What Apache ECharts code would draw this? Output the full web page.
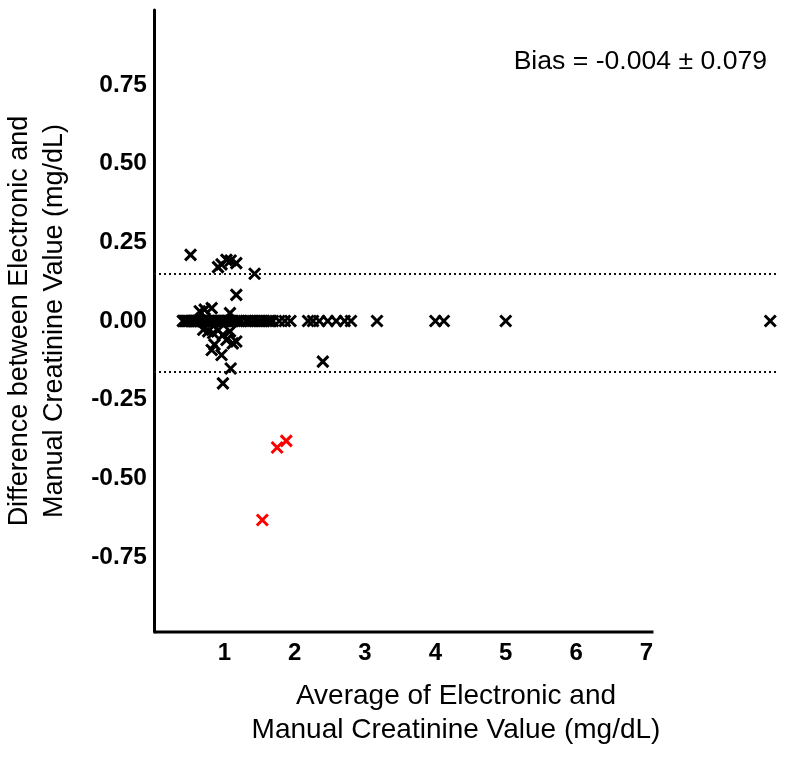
<!DOCTYPE html>
<html>
<head>
<meta charset="utf-8">
<script src="https://cdn.jsdelivr.net/npm/echarts@6/dist/echarts.min.js"></script>
<style>html,body{margin:0;padding:0;background:#fff}#c{width:800px;height:758px}</style>
</head>
<body>
<div id="c"></div>
<script>
// x tick labels and y tick labels
const xTicks = [1, 2, 3, 4, 5, 6, 7];
const yTicks = [-0.75, -0.5, -0.25, 0, 0.25, 0.5, 0.75];
// limits of agreement (bias ± 1.96 SD)
const limits = [0.151, -0.159];
// axis extents
const xRange = [0, 8.87];
const yRange = [-0.988, 0.988];
const xAxisLineEnd = 7.1;
// points with zero difference (average values)
const zeroX = [0.41,0.42,0.44,0.45,0.47,0.48,0.50,0.52,0.53,0.55,0.57,0.58,0.60,0.62,0.63,0.65,0.67,0.69,0.70,0.72,0.74,0.76,0.78,0.80,0.81,0.83,0.85,0.87,0.89,0.91,0.93,0.95,0.97,0.99,1.01,1.03,1.05,1.07,1.10,1.12,1.15,1.18,1.21,1.24,1.31,1.34,1.37,1.40,1.43,1.46,1.50,1.53,1.56,1.60,1.63,1.66,1.69,1.78,1.86,1.94,2.19,2.26,2.35,2.47,2.59,2.71,2.80,3.17,4.00,4.12,5.00,8.76];
// points with non-zero difference (black)
const nzX = [0.52,0.91,0.96,1.03,1.09,1.17,1.43,1.17,0.65,0.72,0.82,1.08,0.70,0.77,0.84,0.91,0.98,1.08,1.03,1.17,0.86,1.12,0.82,0.96,1.09,0.98,2.40];
const nzY = [0.210,0.171,0.180,0.194,0.192,0.184,0.150,0.083,0.031,0.036,0.041,0.025,-0.028,-0.033,-0.038,-0.030,-0.044,-0.033,-0.060,-0.065,-0.075,-0.071,-0.092,-0.108,-0.151,-0.198,-0.129];
// outliers (red)
const redX = [1.75, 1.88, 1.54];
const redY = [-0.402, -0.381, -0.632];

const blackData = zeroX.map(x => [x, 0]).concat(nzX.map((x, i) => [x, nzY[i]]));
const redData = redX.map((x, i) => [x, redY[i]]);

const FONT = "'Liberation Sans', Arial, Helvetica, sans-serif";
const cross = 'path://M0,0L10,10M10,0L0,10';

const chart = echarts.init(document.getElementById('c'), null, {renderer: 'canvas'});
chart.setOption({
  animation: false,
  backgroundColor: '#fff',
  grid: {left: 154, right: 22, top: 10, bottom: 126, containLabel: false, outerBoundsMode: 'none'},
  xAxis: {
    type: 'value', min: xRange[0], max: xRange[1],
    axisLine: {show: false}, axisTick: {show: false}, splitLine: {show: false},
    axisLabel: {customValues: xTicks, color: '#000', fontWeight: 'bold', fontSize: 24, fontFamily: FONT, margin: 9,
      formatter: v => String(Math.round(v))}
  },
  yAxis: {
    type: 'value', min: yRange[0], max: yRange[1],
    axisLine: {show: true, onZero: false, lineStyle: {color: '#000', width: 3}},
    axisTick: {show: false}, splitLine: {show: false},
    axisLabel: {customValues: yTicks, color: '#000', fontWeight: 'bold', fontSize: 24.5, fontFamily: FONT, margin: 7,
      formatter: v => v.toFixed(2)},
    name: 'Difference between Electronic and\nManual Creatinine Value (mg/dL)',
    nameLocation: 'middle', nameGap: 82,
    nameTextStyle: {color: '#000', fontSize: 27, fontFamily: FONT, lineHeight: 35}
  },
  graphic: [
    {type: 'text', x: 456, y: 679, style: {text: 'Average of Electronic and\nManual Creatinine Value (mg/dL)', align: 'center', verticalAlign: 'top', font: '28px ' + FONT, lineHeight: 34, fill: '#000'}},
    {type: 'text', x: 767, y: 62, style: {text: 'Bias = -0.004 \u00b1 0.079', align: 'right', verticalAlign: 'middle', font: '26.6px ' + FONT, fill: '#000'}}
  ],
  series: [
    {
      type: 'line', data: [[0, yRange[0]], [xAxisLineEnd, yRange[0]]],
      symbol: 'none', clip: false, silent: true,
      lineStyle: {color: '#000', width: 3}, z: 5
    },
    {
      type: 'scatter', data: blackData, symbol: cross, symbolSize: 11,
      itemStyle: {color: 'rgba(0,0,0,0)', borderColor: '#000', borderWidth: 3, opacity: 1},
      markLine: {
        silent: true, symbol: 'none', label: {show: false},
        lineStyle: {color: '#111', type: [2, 3], width: 2},
        data: limits.map(v => ({yAxis: v}))
      }
    },
    {
      type: 'scatter', data: redData, symbol: cross, symbolSize: 11,
      itemStyle: {color: 'rgba(0,0,0,0)', borderColor: '#ff0000', borderWidth: 3, opacity: 1}
    }
  ]
});
</script>
</body>
</html>
